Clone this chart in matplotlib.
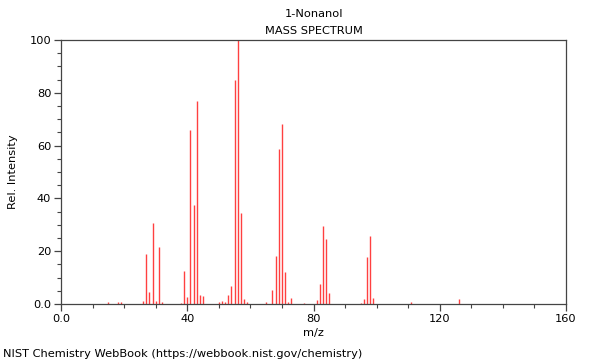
import matplotlib
matplotlib.use('Agg')
from matplotlib import pyplot as plt
from matplotlib.ticker import MultipleLocator, FuncFormatter

# m/z and relative intensity
mz = [15, 18, 19, 26, 27, 28, 29, 30, 31, 32, 38, 39, 40, 41, 42, 43, 44, 45,
      50, 51, 52, 53, 54, 55, 56, 57, 58, 59, 65, 67, 68, 69, 70, 71, 72, 73,
      77, 81, 82, 83, 84, 85, 95, 96, 97, 98, 99, 111, 126]
intensity = [0.9, 0.7, 0.7, 1.1, 19.0, 4.5, 30.8, 1.0, 21.4, 0.8, 0.5, 12.4, 2.8, 66.0, 37.4, 76.9, 3.3, 3.1,
             0.8, 1.0, 0.8, 3.4, 6.7, 84.8, 100.0, 34.5, 1.8, 0.8, 0.8, 5.3, 18.2, 58.6, 68.0, 12.0, 0.9, 2.4,
             0.4, 1.5, 7.7, 29.5, 24.8, 4.3, 0.5, 1.9, 17.8, 25.8, 2.3, 0.6, 1.7]

title1 = '1-Nonanol'
title2 = 'MASS SPECTRUM'
footer = 'NIST Chemistry WebBook (https://webbook.nist.gov/chemistry)'

fs = 8.2

fig = plt.figure(figsize=(6, 3.6), dpi=100)
ax = fig.add_axes([0.1017, 0.1556, 0.8416, 0.7333])

ax.vlines(mz, 0, intensity, colors='#ff0000', linewidth=1.0, alpha=0.75)

ax.set_xlim(0, 160)
ax.set_ylim(0, 100)

def fmt(v, pos):
    if v == 0:
        return '0.0'
    return '%d' % v

ax.xaxis.set_major_locator(MultipleLocator(40))
ax.xaxis.set_minor_locator(MultipleLocator(10))
ax.yaxis.set_major_locator(MultipleLocator(20))
ax.yaxis.set_minor_locator(MultipleLocator(5))
ax.xaxis.set_major_formatter(FuncFormatter(fmt))
ax.yaxis.set_major_formatter(FuncFormatter(fmt))

for s in ax.spines.values():
    s.set_color('#444444')
    s.set_linewidth(0.9)
ax.tick_params(which='major', length=5, width=0.9, color='#444444', labelsize=fs, pad=2)
ax.tick_params(which='minor', length=3, width=0.8, color='#444444')

ax.set_xlabel('m/z', fontsize=fs, labelpad=3)
ax.set_ylabel('Rel. Intensity', fontsize=fs, labelpad=8.5)

fig.text(0.523, 0.961, title1, ha='center', va='center', fontsize=fs)
fig.text(0.523, 0.915, title2, ha='center', va='center', fontsize=fs)
fig.text(0.005, 0.018, footer, ha='left', va='center', fontsize=fs)

plt.savefig('out.png', dpi=100)
